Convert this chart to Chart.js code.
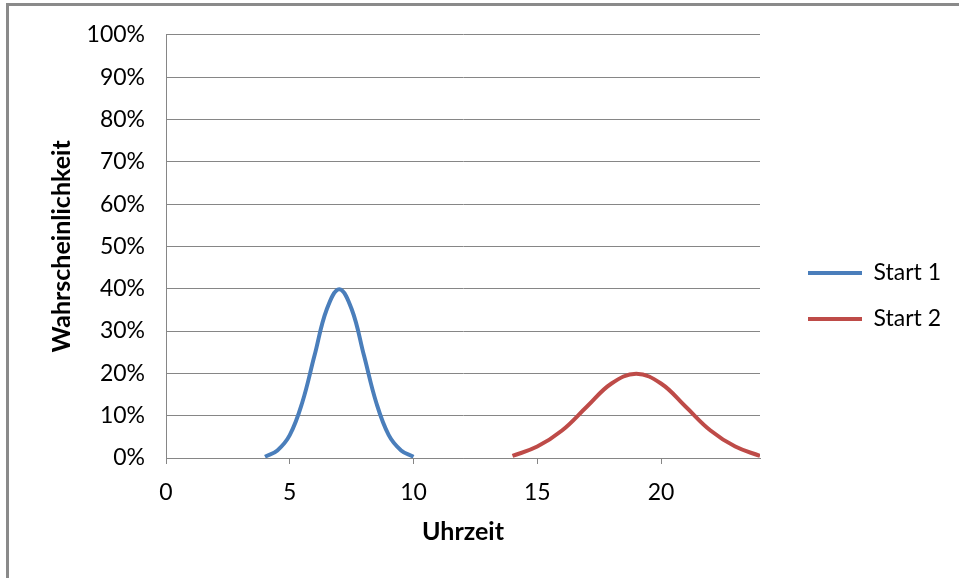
<!DOCTYPE html>
<html>
<head>
<meta charset="utf-8">
<script src="https://cdn.jsdelivr.net/npm/chart.js@4/dist/chart.umd.min.js"></script>
<style>
  html, body { margin: 0; padding: 0; background: #fff; }
  #wrap { position: relative; width: 959px; height: 578px; overflow: hidden; }
  #frame { position: absolute; left: 6px; top: 3px; width: 1000px; height: 1000px;
           border-left: 3px solid #8a8a8a; border-top: 3px solid #8a8a8a; pointer-events: none; }
  canvas { position: absolute; left: 0; top: 0; }
</style>
</head>
<body>
<div id="wrap">
  <canvas id="c" width="959" height="578"></canvas>
  <div id="frame"></div>
</div>
<script>
// Uhrzeit (hours) and probability for the first start window
const start1Hours = [4, 4.5, 5, 5.5, 6, 6.5, 7, 7.5, 8, 8.5, 9, 9.5, 10];
const start1Prob  = [0.003, 0.018, 0.054, 0.130, 0.242, 0.352, 0.399, 0.352, 0.242, 0.130, 0.054, 0.018, 0.003];

// Uhrzeit (hours) and probability for the second start window
const start2Hours = [14, 15, 16, 17, 18, 19, 20, 21, 22, 23, 24];
const start2Prob  = [0.005, 0.027, 0.065, 0.121, 0.176, 0.199, 0.176, 0.121, 0.065, 0.027, 0.005];

const seriesNames = ['Start 1', 'Start 2'];
const xTickValues = [0, 5, 10, 15, 20];

const toPoints = (xs, ys) => xs.map((x, i) => ({ x: x, y: ys[i] }));

const FONT = 'Lato, "Open Sans", sans-serif';
const GRID = '#868686';

// Stretch the legend over the right-hand margin and centre it on the whole canvas
const legendBox = {
  id: 'legendBox',
  afterInit(chart) {
    const lg = chart.legend;
    const fit = lg.fit.bind(lg);
    lg.fit = function () { fit(); this.width = 199; };
  },
  afterLayout(chart) {
    const lg = chart.legend;
    lg.left = 808 - lg.options.labels.padding;
    lg.right = 959;
    lg.top = 7;
    lg.bottom = 585;
    lg.height = 578;
    lg.width = lg.right - lg.left;
  }
};

new Chart(document.getElementById('c'), {
  type: 'line',
  data: {
    datasets: [
      {
        label: seriesNames[0],
        data: toPoints(start1Hours, start1Prob),
        borderColor: '#4a7ebb',
        backgroundColor: '#4a7ebb',
        borderWidth: 4,
        pointRadius: 0,
        tension: 0.4
      },
      {
        label: seriesNames[1],
        data: toPoints(start2Hours, start2Prob),
        borderColor: '#be4b48',
        backgroundColor: '#be4b48',
        borderWidth: 4,
        pointRadius: 0,
        tension: 0.4
      }
    ]
  },
  options: {
    responsive: false,
    animation: false,
    layout: { padding: { top: 32, left: 0, right: 0, bottom: 0 } },
    plugins: {
      tooltip: { enabled: false },
      legend: {
        position: 'right',
        labels: {
          font: { family: FONT, size: 23 },
          color: '#000',
          boxWidth: 54,
          boxHeight: 4,
          padding: 23,
          generateLabels(chart) {
            const items = Chart.defaults.plugins.legend.labels.generateLabels(chart);
            items.forEach(it => { it.lineWidth = 0; it.fillStyle = it.strokeStyle; });
            return items;
          }
        }
      }
    },
    scales: {
      x: {
        type: 'linear',
        min: 0,
        max: 24,
        afterBuildTicks: s => { s.ticks = xTickValues.map(v => ({ value: v })); },
        afterFit: s => { s.height = 120; },
        grid: { drawOnChartArea: false, drawTicks: true, tickLength: 6, color: GRID },
        border: { color: GRID, width: 1 },
        ticks: { font: { family: FONT, size: 23 }, color: '#000', padding: 15, maxRotation: 0 },
        title: {
          display: true,
          text: 'Uhrzeit',
          font: { family: FONT, size: 25, weight: 'bold' },
          color: '#000',
          padding: { top: 0, bottom: 31 }
        }
      },
      y: {
        min: 0,
        max: 1,
        afterFit: s => { s.width = 166; },
        grid: { color: GRID, drawTicks: false, lineWidth: 1 },
        border: { color: GRID, width: 1 },
        ticks: {
          stepSize: 0.1,
          padding: 21,
          font: { family: FONT, size: 23 },
          color: '#000',
          callback: v => Math.round(v * 100) + '%'
        },
        title: {
          display: true,
          text: 'Wahrscheinlichkeit',
          font: { family: FONT, size: 25, weight: 'bold' },
          color: '#000',
          padding: { top: 47, bottom: 0 }
        }
      }
    }
  },
  plugins: [legendBox]
});
</script>
</body>
</html>
